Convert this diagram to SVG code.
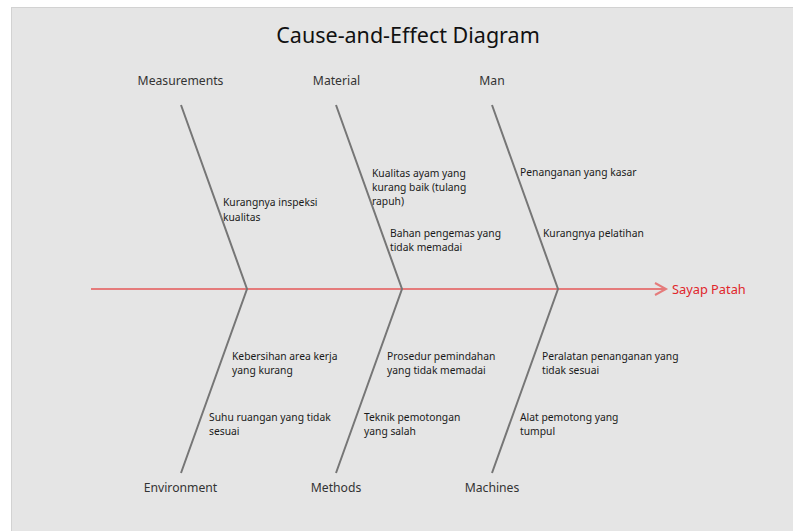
<svg xmlns="http://www.w3.org/2000/svg" width="793" height="531" viewBox="0 0 793 531">
<defs>
<style>
.bg{fill:#e5e5e5;stroke:#d2d2d2;stroke-width:1}
.title{font-family:"Noto Sans","Open Sans",sans-serif;font-size:21.5px;fill:#111;text-anchor:middle}
.cat{font-family:"Noto Sans","Open Sans",sans-serif;font-size:12.2px;fill:#333;text-anchor:middle}
.cause{font-family:"Noto Sans","Open Sans",sans-serif;font-size:10.3px;fill:#1a1a1a}
.effect{font-family:"Noto Sans","Open Sans",sans-serif;font-size:12.8px;fill:#e0262b}
.bone{stroke:#767676;stroke-width:2;fill:none}
.spine{stroke:#e57b7b;stroke-width:2;fill:none}
</style>
</defs>
<rect x="0" y="0" width="793" height="531" fill="#ffffff"/>
<rect class="bg" x="11.5" y="7.5" width="790" height="530"/>
<text class="title" x="408" y="43">Cause-and-Effect Diagram</text>

<g id="connectors">
<line class="spine" x1="91" y1="289" x2="666" y2="289"/>
<polyline class="spine" points="655,283 666,289 655,295"/>
<polyline class="bone" points="181,105 247,289 181,473"/>
<polyline class="bone" points="336,105 402,289 336,473"/>
<polyline class="bone" points="492,105 558,289 492,473"/>
</g>

<g id="effect"><text class="effect" x="672" y="294">Sayap Patah</text></g>

<g id="measurements">
<text class="cat" x="180.5" y="85">Measurements</text>
<text class="cause" x="223" y="205.5">Kurangnya inspeksi</text>
<text class="cause" x="223" y="220.5">kualitas</text>
</g>
<g id="material">
<text class="cat" x="336.5" y="85">Material</text>
<text class="cause" x="372" y="176.5">Kualitas ayam yang</text>
<text class="cause" x="372" y="190.5">kurang baik (tulang</text>
<text class="cause" x="372" y="204.5">rapuh)</text>
<text class="cause" x="390" y="236.5">Bahan pengemas yang</text>
<text class="cause" x="390" y="250.5">tidak memadai</text>
</g>
<g id="man">
<text class="cat" x="492" y="85">Man</text>
<text class="cause" x="520" y="175.5">Penanganan yang kasar</text>
<text class="cause" x="543" y="236.5">Kurangnya pelatihan</text>
</g>
<g id="environment">
<text class="cat" x="180.5" y="492">Environment</text>
<text class="cause" x="232" y="359.5">Kebersihan area kerja</text>
<text class="cause" x="232" y="373.5">yang kurang</text>
<text class="cause" x="209" y="420.5">Suhu ruangan yang tidak</text>
<text class="cause" x="209" y="434.5">sesuai</text>
</g>
<g id="methods">
<text class="cat" x="336" y="492">Methods</text>
<text class="cause" x="387" y="359.5">Prosedur pemindahan</text>
<text class="cause" x="387" y="373.5">yang tidak memadai</text>
<text class="cause" x="364" y="420.5">Teknik pemotongan</text>
<text class="cause" x="364" y="434.5">yang salah</text>
</g>
<g id="machines">
<text class="cat" x="492" y="492">Machines</text>
<text class="cause" x="542" y="359.5">Peralatan penanganan yang</text>
<text class="cause" x="542" y="373.5">tidak sesuai</text>
<text class="cause" x="520" y="420.5">Alat pemotong yang</text>
<text class="cause" x="520" y="434.5">tumpul</text>
</g>
</svg>
